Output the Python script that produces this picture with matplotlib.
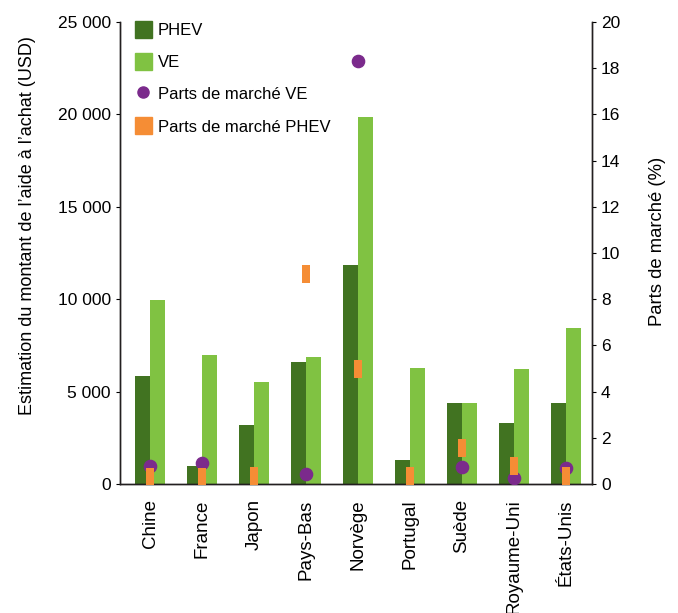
import matplotlib
matplotlib.use('Agg')
import matplotlib.pyplot as plt
import numpy as np
from matplotlib.patches import Patch
from matplotlib.lines import Line2D
from matplotlib.ticker import FuncFormatter

plt.rcParams['font.family'] = ['Liberation Sans', 'DejaVu Sans']

# ── données ──────────────────────────────────────────────
pays = ['Chine', 'France', 'Japon', 'Pays-Bas', 'Norvège', 'Portugal',
        'Suède', 'Royaume-Uni', 'États-Unis']
aide_phev = [5850, 1000, 3200, 6600, 11850, 1300, 4380, 3300, 4380]
aide_ve = [9950, 6980, 5520, 6870, 19850, 6280, 4380, 6220, 8440]
part_ve = [0.78, 0.9, np.nan, 0.45, 18.3, np.nan, 0.75, 0.27, 0.7]
part_phev = [0.3, 0.3, 0.35, 9.1, 5.0, 0.35, 1.56, 0.78, 0.35]

c_phev = '#417321'
c_ve = '#80c242'
c_part_ve = '#7b2a8c'
c_part_phev = '#f58d35'

fig = plt.figure(figsize=(6.78, 6.13), dpi=100)
ax = fig.add_axes([0.177, 0.2104, 0.696, 0.7536])
ax2 = ax.twinx()

x = np.arange(len(pays))
w = 0.29
ax.bar(x - w / 2, aide_phev, w, color=c_phev, zorder=2)
ax.bar(x + w / 2, aide_ve, w, color=c_ve, zorder=2)

# marqueur rectangulaire (vertical) pour les parts PHEV
rect = [(-0.5, -1), (0.5, -1), (0.5, 1), (-0.5, 1), (-0.5, -1)]
ax2.plot(x, part_ve, 'o', color=c_part_ve, markersize=8.8, linestyle='none', zorder=3)
ax2.plot(x, part_phev, marker=rect, color=c_part_phev, markersize=12.5,
         linestyle='none', markeredgewidth=0, zorder=4)

ax.set_xlim(-0.58, 8.5)
ax.set_ylim(0, 25000)
ax2.set_ylim(0, 20)
ax.set_yticks(range(0, 25001, 5000))
ax.yaxis.set_major_formatter(FuncFormatter(lambda v, p: f'{int(v):,}'.replace(',', ' ')))
ax2.set_yticks(range(0, 21, 2))

ax.set_xticks(x)
ax.set_xticklabels(pays, rotation=90, fontsize=13.5)
ax.tick_params(axis='x', length=0, pad=11)
ax.tick_params(axis='y', labelsize=12.5, length=3, direction='out')
ax2.tick_params(axis='y', labelsize=12.5, length=3, direction='out')

for a in (ax, ax2):
    a.spines['top'].set_visible(False)
    for s in ('left', 'right', 'bottom'):
        a.spines[s].set_linewidth(1.0)
        a.spines[s].set_color('#231f20')

ax.set_ylabel('Estimation du montant de l’aide à l’achat (USD)', fontsize=13, va='center')
ax.yaxis.set_label_coords(-0.197, 0.56)
ax2.set_ylabel('Parts de marché (%)', fontsize=13.3, va='center')
ax2.yaxis.set_label_coords(1.14, 0.526)

handles = [
    Patch(color=c_phev, label='PHEV'),
    Patch(color=c_ve, label='VE'),
    Line2D([], [], marker='o', color=c_part_ve, linestyle='none', markersize=8,
           label='Parts de marché VE'),
    Patch(color=c_part_phev, label='Parts de marché PHEV'),
]
ax2.legend(handles=handles, loc='upper left', bbox_to_anchor=(0.0, 1.035), frameon=False,
           fontsize=12, handlelength=1.0, handleheight=1.2, handletextpad=0.35,
           labelspacing=0.9)

plt.savefig('out.png', dpi=100)
